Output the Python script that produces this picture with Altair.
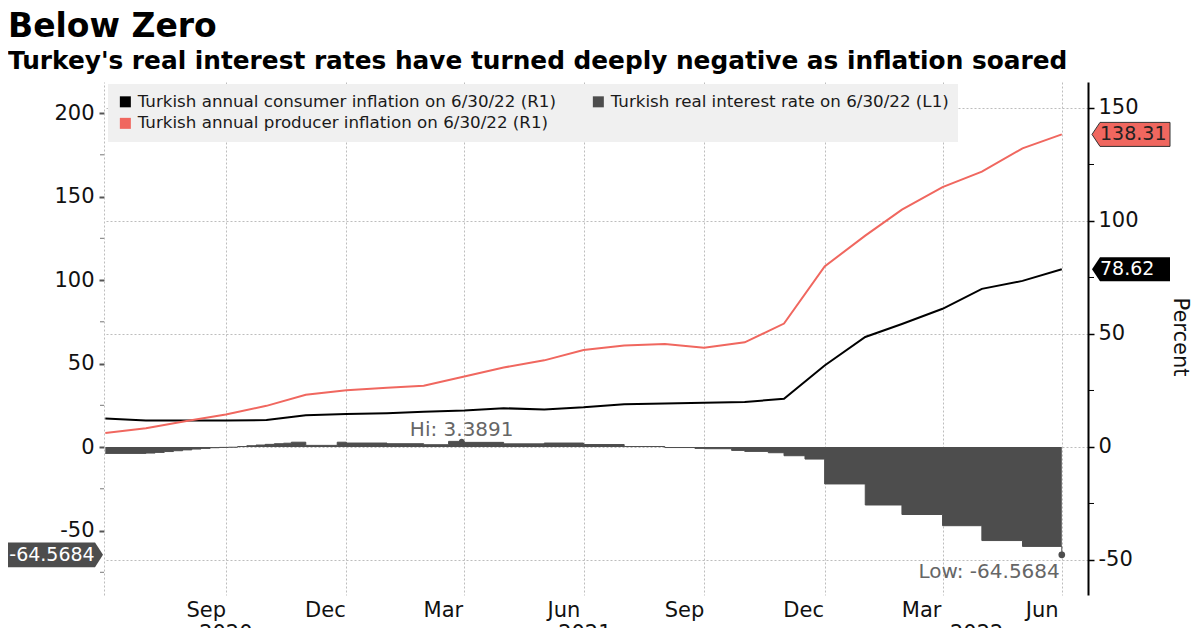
import altair as alt
import pandas as pd

# ---------------- data ----------------
CPI_LABEL = "Turkish annual consumer inflation on 6/30/22 (R1)"
REAL_LABEL = "Turkish real interest rate on 6/30/22 (L1)"
PPI_LABEL = "Turkish annual producer inflation on 6/30/22 (R1)"

months = ["2020-06-30", "2020-07-31", "2020-08-31", "2020-09-30", "2020-10-31", "2020-11-30",
          "2020-12-31", "2021-01-31", "2021-02-28", "2021-03-31", "2021-04-30", "2021-05-31",
          "2021-06-30", "2021-07-31", "2021-08-31", "2021-09-30", "2021-10-31", "2021-11-30",
          "2021-12-31", "2022-01-31", "2022-02-28", "2022-03-31", "2022-04-30", "2022-05-31",
          "2022-06-30"]
cpi = [12.62, 11.76, 11.77, 11.75, 11.89, 14.03, 14.60, 14.97, 15.61, 16.19, 17.14, 16.59,
       17.53, 18.95, 19.25, 19.58, 19.89, 21.31, 36.08, 48.69, 54.44, 61.14, 69.97, 73.50, 78.62]
ppi = [6.17, 8.33, 11.53, 14.33, 18.20, 23.11, 25.15, 26.16, 27.09, 31.20, 35.17, 38.33,
       42.89, 44.92, 45.52, 43.96, 46.31, 54.62, 79.89, 93.53, 105.01, 114.97, 121.82, 132.16, 138.31]

real_dates = ["2020-06-30", "2020-07-31", "2020-08-07", "2020-08-14", "2020-08-21", "2020-08-28",
              "2020-09-04", "2020-09-11", "2020-09-18", "2020-09-25", "2020-10-02", "2020-10-09",
              "2020-10-16", "2020-10-23", "2020-10-30", "2020-11-06", "2020-11-13", "2020-11-19",
              "2020-11-30", "2020-12-24", "2020-12-31", "2021-01-31", "2021-02-28", "2021-03-19",
              "2021-03-31", "2021-04-30", "2021-05-31", "2021-06-30", "2021-07-31", "2021-08-31",
              "2021-09-23", "2021-09-30", "2021-10-21", "2021-10-31", "2021-11-18", "2021-11-30",
              "2021-12-16", "2021-12-31", "2022-01-31", "2022-02-28", "2022-03-31", "2022-04-30",
              "2022-05-31", "2022-06-30"]
real_vals = [-3.8, -3.6, -3.2, -2.7, -2.2, -1.7,
             -1.2, -0.8, -0.4, -0.2, -0.1, 0.3,
             0.8, 1.2, 1.6, 2.0, 2.3, 2.9,
             1.0, 2.9, 2.4, 2.0, 1.4, 3.3891,
             2.8, 1.9, 2.4, 1.5, 0.3, -0.3,
             -0.8, -1.0, -2.0, -2.6, -3.4, -5.2,
             -7.2, -22.1, -34.7, -40.4, -47.1, -56.0,
             -59.5, -64.5684]

hi_date, hi_val, hi_text = "2021-03-29", 3.3891, "Hi: 3.3891"
low_date, low_val, low_text = "2022-06-30", -64.5684, "Low: -64.5684"

month_label_dates = ["2020-09-15", "2020-12-15", "2021-03-15", "2021-06-15",
                     "2021-09-15", "2021-12-15", "2022-03-15", "2022-06-15"]
month_labels = ["Sep", "Dec", "Mar", "Jun", "Sep", "Dec", "Mar", "Jun"]
year_label_dates = ["2020-09-30", "2021-07-01", "2022-04-26"]
year_labels = ["2020", "2021", "2022"]

left_ticks = [-50, 0, 50, 100, 150, 200]
left_minor = [-75, -25, 25, 75, 125, 175]
right_ticks = [-50, 0, 50, 100, 150]
right_minor = [-25, 25, 75, 125]
grid_month_ends = [(2020, 9, 30), (2020, 12, 31), (2021, 3, 31), (2021, 6, 30),
                   (2021, 9, 30), (2021, 12, 31), (2022, 3, 31), (2022, 6, 30)]

# ---------------- styles ----------------
FONT = "DejaVu Sans"
RED = "#f0675f"
GRAY = "#4d4d4d"
BLACK = "#000000"
GRID = "#bdbdbd"

W, H = 984, 513
xs = alt.Scale(type="utc", domain=[alt.DateTime(year=2020, month=6, date=29, utc=True),
                                   alt.DateTime(year=2022, month=7, date=20, utc=True)])
ys_left = alt.Scale(domain=[-88.6, 218.6], nice=False, zero=False)
ys_right = alt.Scale(domain=[-65.5, 161.5], nice=False, zero=False)

x_axis = alt.Axis(values=[alt.DateTime(year=y, month=m, date=d, utc=True) for y, m, d in grid_month_ends],
                  grid=True, gridDash=[2, 2], gridColor=GRID, gridWidth=1,
                  labels=False, ticks=False, domain=False, title=None)
left_axis = alt.Axis(orient="left", values=left_ticks, grid=False, title=None,
                     labelExpr="'' + datum.value",
                     labelFont=FONT, labelFontSize=21, labelColor="#111111",
                     tickSize=5, tickWidth=2, tickColor="#555555", labelPadding=5,
                     domainColor=GRID, domainDash=[2, 2], domainWidth=1)
right_axis = alt.Axis(orient="right", values=right_ticks, grid=True, gridDash=[2, 2],
                      gridColor=GRID, gridWidth=1, title="Percent",
                      labelExpr="'' + datum.value",
                      titleFont=FONT, titleFontSize=21, titleFontWeight="normal",
                      titleColor="#111111", titleAngle=90, titleX=91, titleY=H / 2 - 2,
                      titleAlign="center", titleBaseline="middle",
                      labelFont=FONT, labelFontSize=21, labelColor="#111111",
                      tickSize=6, tickWidth=1.5, tickColor=BLACK, labelPadding=4,
                      domainColor=BLACK, domainWidth=2)


def X(field="date:T"):
    return alt.X(field, scale=xs, axis=x_axis)


def YL(field):
    return alt.Y(field, scale=ys_left, axis=left_axis)


def YR(field):
    return alt.Y(field, scale=ys_right, axis=right_axis)


RIGHT_BADGE = "M-1,0L-0.795,-0.308L1,-0.308L1,0.308L-0.795,0.308Z"
LEFT_BADGE = "M1,0L0.832,-0.263L-1,-0.263L-1,0.263L0.832,0.263Z"

# ---------------- left (L1) layer ----------------
real_df = pd.DataFrame({"date": real_dates, "rate": real_vals, "series": REAL_LABEL})

area = alt.Chart(real_df).mark_area(
    interpolate="step-after", opacity=1,
    line={"color": GRAY, "strokeWidth": 1, "interpolate": "step-after"}).encode(
    x=X(),
    y=YL("rate:Q"),
    y2=alt.datum(0),
    color=alt.Color("series:N",
                    scale=alt.Scale(domain=[CPI_LABEL, REAL_LABEL, PPI_LABEL],
                                    range=[BLACK, GRAY, RED]),
                    legend=alt.Legend(orient="none", legendX=4, legendY=2, direction="horizontal",
                                      columns=2, symbolType="square", symbolSize=121,
                                      symbolStrokeWidth=0, symbolOpacity=1,
                                      labelFont=FONT, labelFontSize=16.7, labelColor="#1a1a1a",
                                      labelLimit=1000, labelOffset=4,
                                      fillColor="#f0f0f0", padding=9, rowPadding=4,
                                      columnPadding=34, title=None)),
)

minor_left_df = pd.DataFrame({"v": left_minor})
minor_left = alt.Chart(minor_left_df).mark_rule(color="#777777", strokeWidth=1).encode(
    x=alt.value(-4), x2=alt.value(0),
    y=YL("v:Q"),
)

hi_df = pd.DataFrame({"date": [hi_date], "v": [hi_val], "label": [hi_text]})
hi_dot = alt.Chart(hi_df).mark_point(filled=True, color=GRAY, opacity=1, size=30).encode(
    x=X(), y=YL("v:Q"))
hi_lbl = alt.Chart(hi_df).mark_text(font=FONT, fontSize=20, color="#666666", align="center",
                                    baseline="alphabetic", dy=-5).encode(
    x=X(), y=YL("v:Q"), text="label:N")

low_df = pd.DataFrame({"date": [low_date], "v": [low_val], "label": [low_text],
                       "badge": [f"{low_val:.4f}"]})
low_dot = alt.Chart(low_df).mark_point(filled=True, color=GRAY, opacity=1, size=45).encode(
    x=X(), y=YL("v:Q"))
low_lbl = alt.Chart(low_df).mark_text(font=FONT, fontSize=20, color="#666666", align="right",
                                      baseline="alphabetic", dx=-2, dy=23).encode(
    x=X(), y=YL("v:Q"), text="label:N")
left_badge = alt.Chart(low_df).mark_point(shape=LEFT_BADGE, size=95 * 95, filled=True,
                                          color=GRAY, opacity=1, strokeWidth=0).encode(
    x=alt.value(-48.5), y=YL("v:Q"))
left_badge_txt = alt.Chart(low_df).mark_text(font=FONT, fontSize=19, color="white",
                                             align="center", baseline="middle").encode(
    x=alt.value(-52), y=YL("v:Q"), text="badge:N")

left_layer = alt.layer(area, minor_left, hi_dot, hi_lbl, low_dot, low_lbl,
                       left_badge, left_badge_txt)

# ---------------- right (R1) layer ----------------
lines_df = pd.concat([
    pd.DataFrame({"date": months, "value": cpi, "series": CPI_LABEL}),
    pd.DataFrame({"date": months, "value": ppi, "series": PPI_LABEL}),
])
lines = alt.Chart(lines_df).mark_line(strokeWidth=2).encode(
    x=X(),
    y=YR("value:Q"),
    stroke=alt.Stroke("series:N", scale=alt.Scale(domain=[CPI_LABEL, PPI_LABEL],
                                                  range=[BLACK, RED]), legend=None),
    detail="series:N",
)

minor_right_df = pd.DataFrame({"v": right_minor})
minor_right = alt.Chart(minor_right_df).mark_rule(color=BLACK, strokeWidth=1).encode(
    x=alt.value(W), x2=alt.value(W + 6),
    y=YR("v:Q"),
)

ppi_last = pd.DataFrame({"v": [ppi[-1]], "label": [f"{ppi[-1]:.2f}"]})
cpi_last = pd.DataFrame({"v": [cpi[-1]], "label": [f"{cpi[-1]:.2f}"]})

ppi_badge = alt.Chart(ppi_last).mark_point(shape=RIGHT_BADGE, size=78 * 78, filled=False,
                                           fill=RED, stroke="#333333", strokeWidth=1,
                                           opacity=1).encode(
    x=alt.value(W + 43), y=YR("v:Q"))
ppi_badge_txt = alt.Chart(ppi_last).mark_text(font=FONT, fontSize=19, color="#222222",
                                              align="left", baseline="middle").encode(
    x=alt.value(W + 12), y=YR("v:Q"), text="label:N")
cpi_badge = alt.Chart(cpi_last).mark_point(shape=RIGHT_BADGE, size=78 * 78, filled=True,
                                           color=BLACK, opacity=1, strokeWidth=0).encode(
    x=alt.value(W + 43), y=YR("v:Q"))
cpi_badge_txt = alt.Chart(cpi_last).mark_text(font=FONT, fontSize=19, color="white",
                                              align="left", baseline="middle").encode(
    x=alt.value(W + 12), y=YR("v:Q"), text="label:N")

right_layer = alt.layer(lines, minor_right, ppi_badge, ppi_badge_txt, cpi_badge, cpi_badge_txt)

# ---------------- x labels ----------------
mdf = pd.DataFrame({"date": month_label_dates, "label": month_labels})
month_text = alt.Chart(mdf).mark_text(font=FONT, fontSize=21, color="#111111", align="center",
                                      baseline="alphabetic").encode(
    x=X(), y=alt.value(H + 22), text="label:N")
ydf = pd.DataFrame({"date": year_label_dates, "label": year_labels})
year_text = alt.Chart(ydf).mark_text(font=FONT, fontSize=21, color="#111111", align="center",
                                     baseline="alphabetic").encode(
    x=X(), y=alt.value(H + 45), text="label:N")

chart = alt.layer(left_layer, right_layer, month_text, year_text).resolve_scale(
    y="independent"
).properties(
    width=W, height=H,
    autosize=alt.AutoSizeParams(type="none"),
    padding={"left": 96, "top": 74, "right": 104, "bottom": 33},
    title=alt.TitleParams(
        text="Below Zero",
        subtitle="Turkey's real interest rates have turned deeply negative as inflation soared",
        anchor="start", frame="group", dx=-96, offset=8,
        font=FONT, fontSize=33, fontWeight="bold", color="black",
        subtitleFont=FONT, subtitleFontSize=24.8, subtitleFontWeight="bold",
        subtitleColor="black", subtitlePadding=5),
).configure_view(stroke=None)

chart.save("out.html", embed_options={"renderer": "svg", "actions": False})
